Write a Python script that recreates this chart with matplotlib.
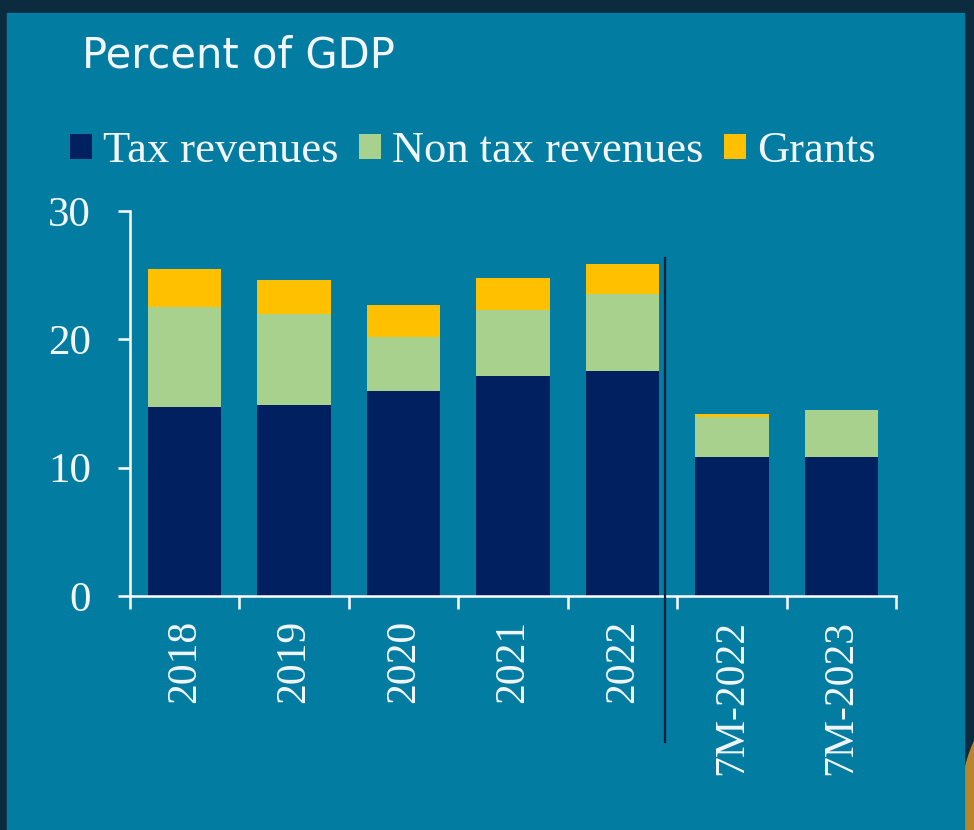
import matplotlib
matplotlib.use("Agg")
import matplotlib.pyplot as plt
from matplotlib.patches import Patch, Rectangle, Ellipse

# Revenue composition, percent of GDP
periods = ["2018", "2019", "2020", "2021", "2022", "7M-2022", "7M-2023"]
tax_revenues = [14.75, 14.85, 16.0, 17.15, 17.55, 10.8, 10.8]
non_tax_revenues = [7.8, 7.15, 4.15, 5.15, 6.0, 3.15, 3.7]
grants = [2.9, 2.6, 2.55, 2.45, 2.3, 0.2, 0.0]
series_names = ["Tax revenues", "Non tax revenues", "Grants"]
y_ticks = [0, 10, 20, 30]

# separator between full years and the 7-month figures
SPLIT_X = 4.39

NAVY = "#002060"
GREEN = "#A9D18E"
GOLD = "#FFC000"
TEAL = "#037ca2"
FRAME = "#0d2b3e"
TEXT = "#f2f6f8"

W, H = 974, 830
fig = plt.figure(figsize=(W / 100, H / 100), dpi=100)
fig.patch.set_facecolor(FRAME)

# slide decoration and panel, kept behind the axes
fig.add_artist(Ellipse((1005 / W, 1 - 815 / H), 90 / W, 200 / H,
                       transform=fig.transFigure, color="#b8862e", zorder=-2))
fig.add_artist(Rectangle((7 / W, 0), 957 / W, 1 - 13 / H,
                         transform=fig.transFigure, color=TEAL, zorder=-1))

ax = fig.add_axes([130 / W, 1 - 596 / H, 766 / W, 385 / H])
ax.set_facecolor("none")

x = list(range(len(periods)))
bottom2 = [a + b for a, b in zip(tax_revenues, non_tax_revenues)]
ax.bar(x, tax_revenues, width=0.67, color=NAVY, zorder=2)
ax.bar(x, non_tax_revenues, width=0.67, bottom=tax_revenues, color=GREEN, zorder=2)
ax.bar(x, grants, width=0.67, bottom=bottom2, color=GOLD, zorder=2)

ax.plot([SPLIT_X, SPLIT_X], [26.3, -11.4], color="#0b1f3a", lw=1.6,
        clip_on=False, zorder=3)

ax.set_xlim(-0.5, len(periods) - 0.5)
ax.set_ylim(0, 30)
ax.set_yticks(y_ticks)

serif = "Liberation Serif"
ax.set_xticks(x)
ax.set_xticklabels(periods, rotation=90, fontsize=30, family=serif, color=TEXT, va="top")
ax.set_xticks([i - 0.5 for i in range(len(periods) + 1)], minor=True)
ax.tick_params(axis="x", which="major", length=0, pad=17)
ax.tick_params(axis="x", which="minor", length=9, width=1.8, color="white", direction="out")
ax.tick_params(axis="y", length=9, width=1.8, color="white", direction="out", pad=19)
for lab in ax.get_yticklabels():
    lab.set_fontsize(31)
    lab.set_family(serif)
    lab.set_color(TEXT)

for side in ["top", "right"]:
    ax.spines[side].set_visible(False)
for side in ["left", "bottom"]:
    ax.spines[side].set_color("white")
    ax.spines[side].set_linewidth(1.8)

fig.text(82 / W, 1 - 67 / H, "Percent of GDP", fontsize=30, family="DejaVu Sans",
         color=TEXT, ha="left", va="baseline")

handles = [Patch(facecolor=c, edgecolor="none") for c in (NAVY, GREEN, GOLD)]
fig.legend(handles, series_names, loc="center left", ncol=3,
           bbox_to_anchor=(70 / W, 1 - 151 / H), frameon=False,
           prop={"family": serif, "size": 32}, labelcolor=TEXT,
           handlelength=0.5, handleheight=0.5, handletextpad=0.25,
           columnspacing=0.45, borderpad=0, borderaxespad=0)

fig.savefig("out.png", dpi=100, facecolor=fig.get_facecolor())
